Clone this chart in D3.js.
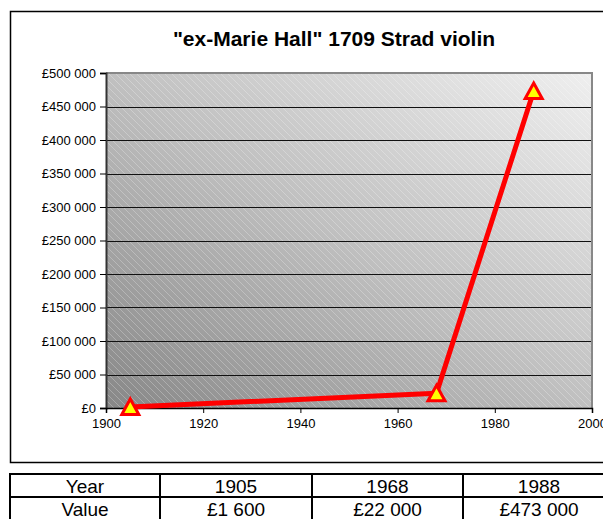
<!DOCTYPE html>
<html><head><meta charset="utf-8">
<script src="https://cdn.jsdelivr.net/npm/d3@7"></script>
<style>body{margin:0;background:#fff;overflow:hidden}svg{display:block;font-family:"Liberation Sans",Arial,sans-serif}</style>
</head><body><svg id="c" width="603" height="519"></svg>
<script>
const title = '"ex-Marie Hall" 1709 Strad violin';
const years = [1905, 1968, 1988];
const values = [1600, 22000, 473000];
const valueLabels = ["£1 600", "£22 000", "£473 000"];
const yTicks = [0,50000,100000,150000,200000,250000,300000,350000,400000,450000,500000];
const xTicks = [1900,1920,1940,1960,1980,2000];

const svg = d3.select("#c");
const L=106,R=592,T=73,B=408;
const x = d3.scaleLinear().domain([1900,2000]).range([L,R]);
const y = d3.scaleLinear().domain([0,500000]).range([B,T]);
const fmt = v => "£" + d3.format(",")(v).replace(/,/g," ");

const defs = svg.append("defs");
const g = defs.append("linearGradient").attr("id","bg").attr("x1","0").attr("y1","1").attr("x2","1").attr("y2","0");
g.append("stop").attr("offset","0").attr("stop-color","#878787");
g.append("stop").attr("offset","0.5").attr("stop-color","#c0c0c0");
g.append("stop").attr("offset","1").attr("stop-color","#efefef");
const p = defs.append("pattern").attr("id","hatch").attr("patternUnits","userSpaceOnUse").attr("width",7).attr("height",7);
p.append("path").attr("d","M-1,-1 L8,8 M-1,6 L1,8 M6,-1 L8,1").attr("stroke","#ffffff").attr("stroke-opacity",0.25).attr("stroke-width",1);

// outer box
svg.append("rect").attr("x",10.5).attr("y",11.5).attr("width",660).attr("height",451).attr("fill","#fff").attr("stroke","#000").attr("stroke-width",1.5);

svg.append("text").attr("x",334).attr("y",46).attr("text-anchor","middle").attr("font-weight","bold").attr("font-size",21).text(title);

svg.append("rect").attr("x",L).attr("y",T).attr("width",R-L).attr("height",B-T).attr("fill","url(#bg)");
svg.append("rect").attr("x",L).attr("y",T).attr("width",R-L).attr("height",B-T).attr("fill","url(#hatch)");

// gridlines
svg.append("g").selectAll("line").data(yTicks.filter(v=>v>0&&v<500000)).join("line")
  .attr("x1",L).attr("x2",R).attr("y1",d=>Math.round(y(d))+0.5).attr("y2",d=>Math.round(y(d))+0.5)
  .attr("stroke","#111").attr("stroke-width",1);
// plot border top/right
svg.append("path").attr("d",`M${L},${T} H${R} V${B}`).attr("fill","none").attr("stroke","#888").attr("stroke-width",2);

const ya = svg.append("g").attr("transform",`translate(${L},0)`)
  .call(d3.axisLeft(y).tickValues(yTicks).tickFormat(fmt).tickSize(6).tickPadding(4));
ya.select(".domain").attr("stroke","#333").attr("stroke-width",2);
ya.selectAll("text").attr("font-size",13).attr("font-family","Liberation Sans, Arial");
const xa = svg.append("g").attr("transform",`translate(0,${B})`)
  .call(d3.axisBottom(x).tickValues(xTicks).tickFormat(d3.format("d")).tickSize(5).tickPadding(6));
xa.select(".domain").attr("stroke","#000").attr("stroke-width",1.5);
xa.selectAll("text").attr("font-size",13).attr("font-family","Liberation Sans, Arial");

const pts = years.map((yr,i)=>[yr,values[i]]);
svg.append("path").datum(pts).attr("d",d3.line().x(d=>x(d[0])).y(d=>y(d[1])))
  .attr("fill","none").attr("stroke","#ff0000").attr("stroke-width",5).attr("stroke-linejoin","round");
svg.append("g").selectAll("path").data(pts).join("path")
  .attr("transform",d=>`translate(${x(d[0])},${y(d[1])})`)
  .attr("d","M0,-8 L8.5,7.5 L-8.5,7.5 Z").attr("fill","#ffff00").attr("stroke","#ff0000").attr("stroke-width",3).attr("stroke-linejoin","miter");

// table
const rows = [["Year", ...years.map(String)], ["Value", ...valueLabels]];
const colX = [10,160,312,463,615];
const rowY = [474,497,520];
const tb = svg.append("g");
rows.forEach((r,ri)=>r.forEach((c,ci)=>{
  tb.append("rect").attr("x",colX[ci]).attr("y",rowY[ri]).attr("width",colX[ci+1]-colX[ci]).attr("height",rowY[ri+1]-rowY[ri])
    .attr("fill","none").attr("stroke","#000").attr("stroke-width",2);
  tb.append("text").attr("x",(colX[ci]+colX[ci+1])/2).attr("y",rowY[ri]+18.5).attr("text-anchor","middle").attr("font-size",19).text(c);
}));
</script></body></html>
